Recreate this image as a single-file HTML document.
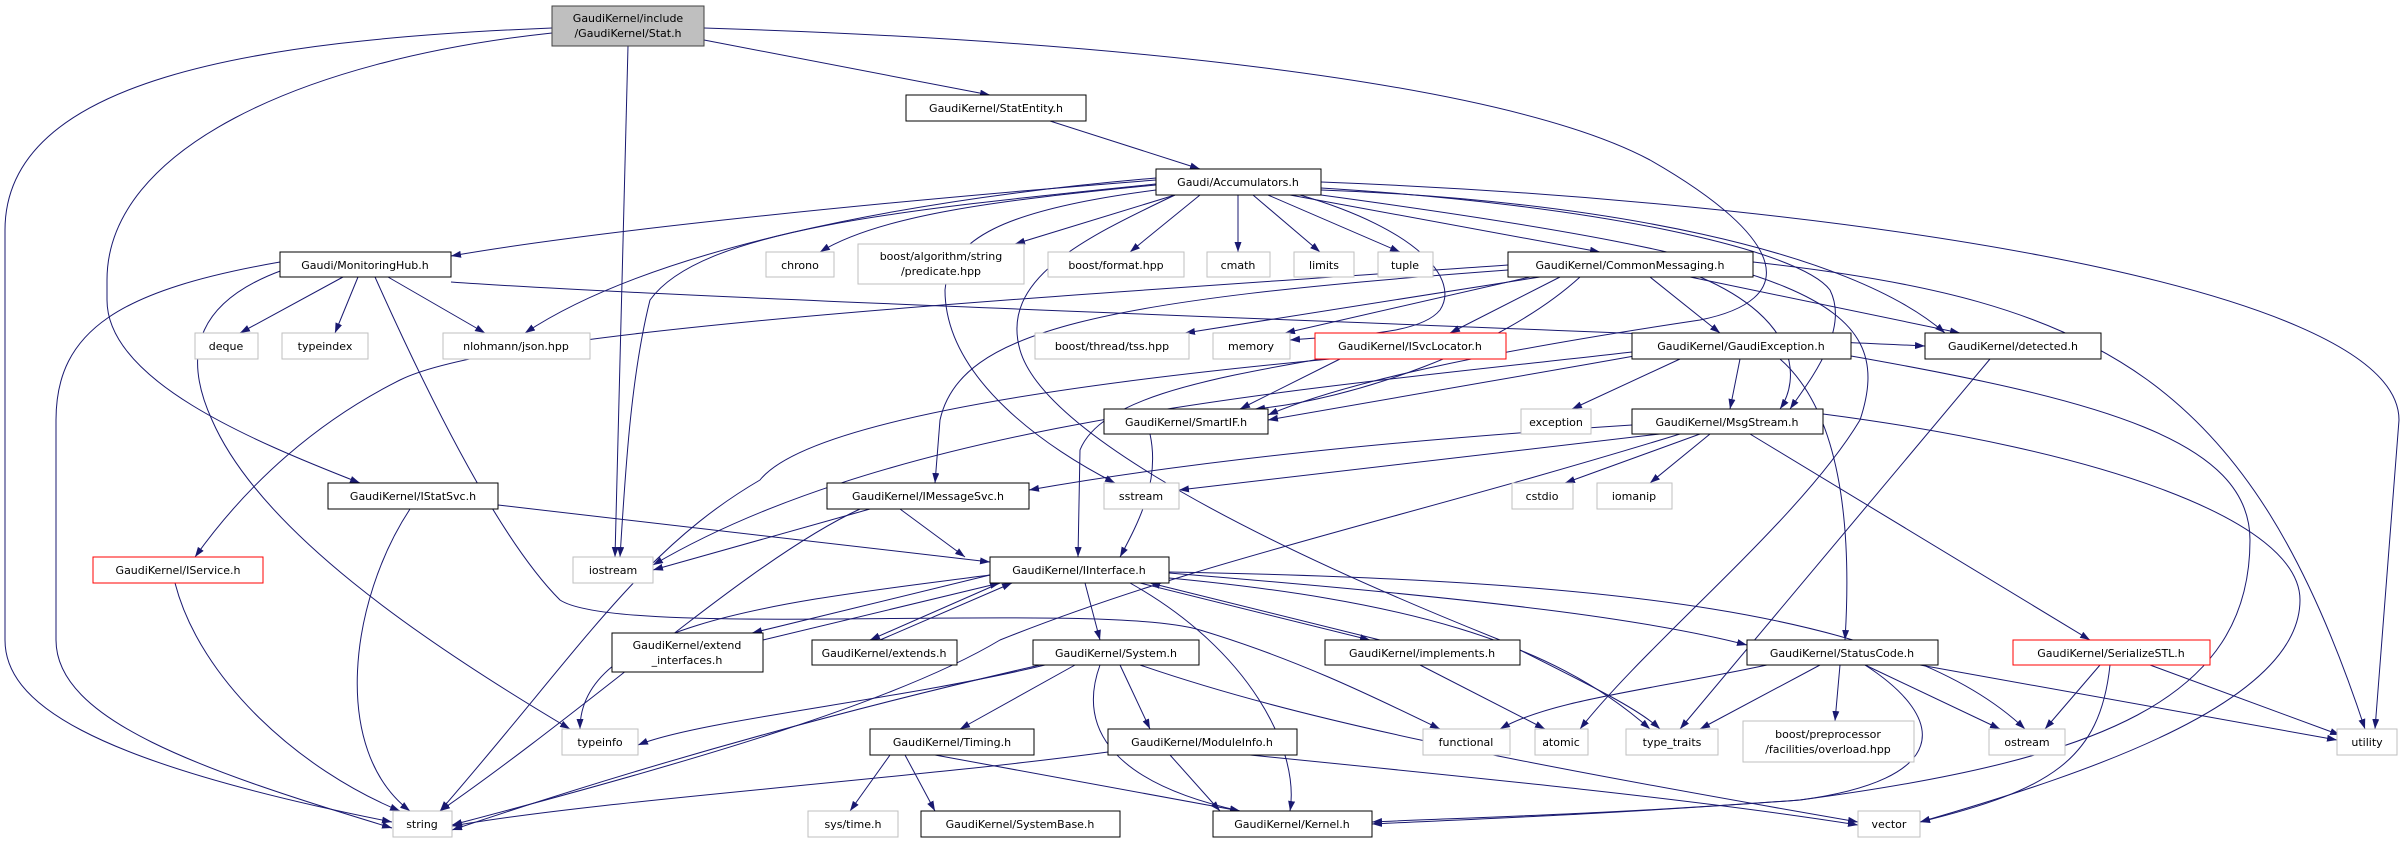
<!DOCTYPE html>
<html><head><meta charset="utf-8"><style>
html,body{margin:0;padding:0;background:#fff;}
svg{display:block;}
text{font-family:"DejaVu Sans","Liberation Sans",sans-serif;font-size:11px;fill:#000;}
.n{fill:#fff;stroke:#000;stroke-width:1;}
.g{fill:#fff;stroke:#bfbfbf;stroke-width:1;}
.r{fill:#fff;stroke:#ff0000;stroke-width:1;}
.e{fill:none;stroke:#191970;stroke-width:1;marker-end:url(#a);}
</style></head><body>
<svg width="2405" height="843" viewBox="0 0 2405 843" xmlns="http://www.w3.org/2000/svg">
<defs><marker id="a" markerWidth="11" markerHeight="8" refX="10" refY="3.5" orient="auto" markerUnits="userSpaceOnUse"><polygon points="0,0 10,3.5 0,7" fill="#191970"/></marker></defs>
<g>
<path class="e" d="M552,28 C250,40 5,80 5,230 L5,640 C5,700 80,760 392,822"/>
<path class="e" d="M552,33 C300,60 107,150 107,280 L107,300 C107,380 250,440 360,483"/>
<path class="e" d="M628,46 L615,557"/>
<path class="e" d="M704,40 L990,95"/>
<path class="e" d="M704,28 C1100,40 1500,80 1650,160 C1790,240 1800,300 1700,320 C1500,350 1350,380 1268,415"/>
<path class="e" d="M280,262 C120,290 56,330 56,420 L56,640 C56,720 200,770 392,828"/>
<path class="e" d="M283,270 C200,300 180,350 212,420 C260,530 420,640 570,729"/>
<path class="e" d="M375,277 C430,400 500,540 560,600 C620,640 1100,600 1200,630 C1300,660 1380,700 1440,729"/>
<path class="e" d="M343,277 L240,333"/>
<path class="e" d="M358,277 L335,333"/>
<path class="e" d="M388,277 L485,333"/>
<path class="e" d="M451,282 C700,300 1600,330 1925,346"/>
<path class="e" d="M1050,121 L1200,169"/>
<path class="e" d="M1156,180 C900,200 600,230 451,256"/>
<path class="e" d="M1156,185 C1000,200 880,215 820,252"/>
<path class="e" d="M1175,195 L1015,244"/>
<path class="e" d="M1200,195 L1130,252"/>
<path class="e" d="M1238,195 L1238,252"/>
<path class="e" d="M1253,195 L1320,252"/>
<path class="e" d="M1268,195 L1400,252"/>
<path class="e" d="M1290,195 L1600,252"/>
<path class="e" d="M1300,195 C1420,230 1460,280 1440,310 C1420,335 1350,335 1290,340"/>
<path class="e" d="M1156,178 C900,200 650,250 525,333"/>
<path class="e" d="M1156,184 C900,210 700,230 650,300 C630,380 625,480 620,557"/>
<path class="e" d="M1156,190 C1000,210 950,240 945,290 C945,380 1050,450 1115,483"/>
<path class="e" d="M1175,195 C1080,240 1000,280 1020,350 C1040,420 1200,520 1500,640 C1600,690 1640,710 1660,729"/>
<path class="e" d="M1321,190 C1600,200 1850,250 1945,333"/>
<path class="e" d="M1321,188 C1600,205 1800,250 1830,290 C1850,330 1810,380 1790,409"/>
<path class="e" d="M1321,182 C1800,200 2399,280 2399,420 L2375,729"/>
<path class="e" d="M1321,195 C1800,260 1900,300 1860,420 C1800,520 1650,640 1580,729"/>
<path class="e" d="M1540,277 L1185,333"/>
<path class="e" d="M1530,277 L1285,333"/>
<path class="e" d="M1560,277 L1450,333"/>
<path class="e" d="M1580,277 C1500,350 1350,400 1255,409"/>
<path class="e" d="M1650,277 L1720,333"/>
<path class="e" d="M1690,277 L1960,333"/>
<path class="e" d="M1700,277 C1800,320 1800,380 1780,409"/>
<path class="e" d="M1753,262 C2100,300 2250,380 2365,729"/>
<path class="e" d="M1508,270 C1100,300 960,330 940,420 L935,483"/>
<path class="e" d="M1508,265 C1000,300 500,330 400,380 C320,420 250,480 195,557"/>
<path class="e" d="M1340,359 L1240,409"/>
<path class="e" d="M1320,359 C1200,380 1100,400 1080,450 L1078,557"/>
<path class="e" d="M1330,359 C1000,390 800,430 760,480 C640,550 580,650 440,811"/>
<path class="e" d="M1680,359 L1572,409"/>
<path class="e" d="M1632,352 C1300,390 900,420 653,565"/>
<path class="e" d="M1640,355 C1500,380 1350,405 1268,420"/>
<path class="e" d="M1740,359 L1730,409"/>
<path class="e" d="M1780,359 C1850,420 1850,560 1845,640"/>
<path class="e" d="M1851,356 C2100,400 2250,440 2250,540 C2250,700 2100,760 1800,800 C1600,815 1450,820 1372,824"/>
<path class="e" d="M1990,359 L1680,729"/>
<path class="e" d="M1632,425 C1400,440 1200,460 1029,490"/>
<path class="e" d="M1660,434 L1179,490"/>
<path class="e" d="M1700,434 L1565,483"/>
<path class="e" d="M1710,434 L1650,483"/>
<path class="e" d="M1750,434 L2090,640"/>
<path class="e" d="M1823,414 C2100,450 2300,520 2300,600 C2300,700 2100,770 1920,822"/>
<path class="e" d="M1680,434 C1400,520 1200,560 1000,640 C900,700 700,760 452,825"/>
<path class="e" d="M1150,434 C1160,480 1140,520 1120,557"/>
<path class="e" d="M498,505 L990,562"/>
<path class="e" d="M410,509 C350,600 330,750 410,811"/>
<path class="e" d="M175,583 C200,680 300,770 400,811"/>
<path class="e" d="M870,509 L653,570"/>
<path class="e" d="M900,509 L965,557"/>
<path class="e" d="M860,509 C750,560 600,700 440,811"/>
<path class="e" d="M990,575 L752,633"/>
<path class="e" d="M763,640 L1000,583"/>
<path class="e" d="M1000,583 L870,640"/>
<path class="e" d="M880,640 L1012,583"/>
<path class="e" d="M1085,583 L1100,640"/>
<path class="e" d="M1140,583 L1370,640"/>
<path class="e" d="M1380,640 L1150,583"/>
<path class="e" d="M1169,573 C1500,600 1650,620 1747,645"/>
<path class="e" d="M1169,572 C1600,580 1900,610 2025,729"/>
<path class="e" d="M1169,578 C1400,600 1550,640 1650,729"/>
<path class="e" d="M990,575 C800,600 580,620 580,729"/>
<path class="e" d="M1130,583 C1250,650 1300,750 1290,811"/>
<path class="e" d="M1075,665 L960,729"/>
<path class="e" d="M1120,665 L1150,729"/>
<path class="e" d="M1100,665 C1080,720 1100,780 1240,811"/>
<path class="e" d="M1040,665 C800,720 600,780 452,830"/>
<path class="e" d="M1045,665 C900,700 700,720 638,745"/>
<path class="e" d="M1140,665 C1300,720 1500,760 1858,822"/>
<path class="e" d="M890,755 L850,811"/>
<path class="e" d="M905,755 L935,811"/>
<path class="e" d="M935,755 L1240,811"/>
<path class="e" d="M1108,752 C900,780 600,800 452,826"/>
<path class="e" d="M1170,755 L1220,811"/>
<path class="e" d="M1250,755 C1500,780 1700,800 1858,825"/>
<path class="e" d="M1420,665 L1545,729"/>
<path class="e" d="M1820,665 L1700,729"/>
<path class="e" d="M1840,665 L1835,721"/>
<path class="e" d="M1865,665 L2000,729"/>
<path class="e" d="M1920,665 L2337,740"/>
<path class="e" d="M1865,665 C1950,720 1950,780 1800,800 C1600,815 1450,818 1372,822"/>
<path class="e" d="M1767,665 C1650,690 1550,700 1500,729"/>
<path class="e" d="M2100,665 L2045,729"/>
<path class="e" d="M2110,665 C2100,760 2050,790 1920,822"/>
<path class="e" d="M2150,665 L2340,735"/>
</g>
<g text-anchor="middle">
<rect x="552" y="6" width="152" height="40" fill="#bfbfbf" stroke="#404040"/><text x="628" y="22">GaudiKernel/include</text><text x="628" y="37">/GaudiKernel/Stat.h</text>
<rect class="n" x="906" y="95" width="180" height="26"/><text x="996" y="112">GaudiKernel/StatEntity.h</text>
<rect class="n" x="1156" y="169" width="165" height="26"/><text x="1238" y="186">Gaudi/Accumulators.h</text>
<rect class="n" x="280" y="252" width="171" height="25"/><text x="365" y="269">Gaudi/MonitoringHub.h</text>
<rect class="g" x="766" y="252" width="68" height="25"/><text x="800" y="269">chrono</text>
<rect class="g" x="858" y="244" width="166" height="40"/><text x="941" y="260">boost/algorithm/string</text><text x="941" y="275">/predicate.hpp</text>
<rect class="g" x="1048" y="252" width="136" height="25"/><text x="1116" y="269">boost/format.hpp</text>
<rect class="g" x="1207" y="252" width="63" height="25"/><text x="1238" y="269">cmath</text>
<rect class="g" x="1294" y="252" width="60" height="25"/><text x="1324" y="269">limits</text>
<rect class="g" x="1378" y="252" width="55" height="25"/><text x="1405" y="269">tuple</text>
<rect class="n" x="1508" y="252" width="245" height="25"/><text x="1630" y="269">GaudiKernel/CommonMessaging.h</text>
<rect class="g" x="195" y="333" width="63" height="26"/><text x="226" y="350">deque</text>
<rect class="g" x="282" y="333" width="86" height="26"/><text x="325" y="350">typeindex</text>
<rect class="g" x="443" y="333" width="147" height="26"/><text x="516" y="350">nlohmann/json.hpp</text>
<rect class="g" x="1035" y="333" width="154" height="26"/><text x="1112" y="350">boost/thread/tss.hpp</text>
<rect class="g" x="1213" y="333" width="77" height="26"/><text x="1251" y="350">memory</text>
<rect class="r" x="1315" y="333" width="191" height="26"/><text x="1410" y="350">GaudiKernel/ISvcLocator.h</text>
<rect class="n" x="1632" y="333" width="219" height="26"/><text x="1741" y="350">GaudiKernel/GaudiException.h</text>
<rect class="n" x="1925" y="333" width="176" height="26"/><text x="2013" y="350">GaudiKernel/detected.h</text>
<rect class="n" x="1104" y="409" width="164" height="25"/><text x="1186" y="426">GaudiKernel/SmartIF.h</text>
<rect class="g" x="1521" y="409" width="70" height="25"/><text x="1556" y="426">exception</text>
<rect class="n" x="1632" y="409" width="191" height="25"/><text x="1727" y="426">GaudiKernel/MsgStream.h</text>
<rect class="n" x="328" y="483" width="170" height="26"/><text x="413" y="500">GaudiKernel/IStatSvc.h</text>
<rect class="n" x="827" y="483" width="202" height="26"/><text x="928" y="500">GaudiKernel/IMessageSvc.h</text>
<rect class="g" x="1104" y="483" width="75" height="26"/><text x="1141" y="500">sstream</text>
<rect class="g" x="1512" y="483" width="61" height="26"/><text x="1542" y="500">cstdio</text>
<rect class="g" x="1597" y="483" width="75" height="26"/><text x="1634" y="500">iomanip</text>
<rect class="r" x="93" y="557" width="170" height="26"/><text x="178" y="574">GaudiKernel/IService.h</text>
<rect class="g" x="573" y="557" width="80" height="26"/><text x="613" y="574">iostream</text>
<rect class="n" x="990" y="557" width="179" height="26"/><text x="1079" y="574">GaudiKernel/IInterface.h</text>
<rect class="n" x="612" y="633" width="151" height="39"/><text x="687" y="649">GaudiKernel/extend</text><text x="687" y="664">_interfaces.h</text>
<rect class="n" x="812" y="640" width="145" height="25"/><text x="884" y="657">GaudiKernel/extends.h</text>
<rect class="n" x="1033" y="640" width="166" height="25"/><text x="1116" y="657">GaudiKernel/System.h</text>
<rect class="n" x="1325" y="640" width="195" height="25"/><text x="1422" y="657">GaudiKernel/implements.h</text>
<rect class="n" x="1747" y="640" width="191" height="25"/><text x="1842" y="657">GaudiKernel/StatusCode.h</text>
<rect class="r" x="2013" y="640" width="197" height="25"/><text x="2111" y="657">GaudiKernel/SerializeSTL.h</text>
<rect class="g" x="562" y="729" width="76" height="26"/><text x="600" y="746">typeinfo</text>
<rect class="n" x="870" y="729" width="164" height="26"/><text x="952" y="746">GaudiKernel/Timing.h</text>
<rect class="n" x="1108" y="729" width="189" height="26"/><text x="1202" y="746">GaudiKernel/ModuleInfo.h</text>
<rect class="g" x="1423" y="729" width="87" height="26"/><text x="1466" y="746">functional</text>
<rect class="g" x="1535" y="729" width="53" height="26"/><text x="1561" y="746">atomic</text>
<rect class="g" x="1626" y="729" width="92" height="26"/><text x="1672" y="746">type_traits</text>
<rect class="g" x="1743" y="721" width="171" height="41"/><text x="1828" y="738">boost/preprocessor</text><text x="1828" y="753">/facilities/overload.hpp</text>
<rect class="g" x="1989" y="729" width="76" height="26"/><text x="2027" y="746">ostream</text>
<rect class="g" x="2337" y="729" width="60" height="26"/><text x="2367" y="746">utility</text>
<rect class="g" x="393" y="811" width="59" height="26"/><text x="422" y="828">string</text>
<rect class="g" x="808" y="811" width="90" height="26"/><text x="853" y="828">sys/time.h</text>
<rect class="n" x="921" y="811" width="199" height="26"/><text x="1020" y="828">GaudiKernel/SystemBase.h</text>
<rect class="n" x="1213" y="811" width="159" height="26"/><text x="1292" y="828">GaudiKernel/Kernel.h</text>
<rect class="g" x="1858" y="811" width="62" height="26"/><text x="1889" y="828">vector</text>
</g>
</svg>
</body></html>
